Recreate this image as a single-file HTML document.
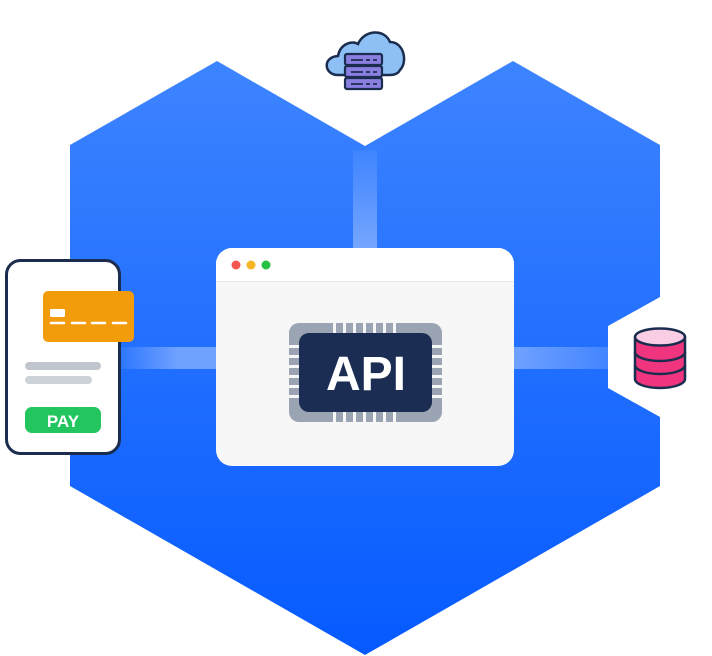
<!DOCTYPE html>
<html><head><style>
body{margin:0;width:712px;height:656px;background:#fff;overflow:hidden;position:relative;font-family:"Liberation Sans",sans-serif}
.a{position:absolute}
</style></head><body>
<svg class="a" style="left:0;top:0" width="712" height="656">
<defs>
<linearGradient id="g" x1="0" y1="0" x2="0" y2="1"><stop offset="0" stop-color="#3d84ff"/><stop offset="1" stop-color="#065aff"/></linearGradient>
<linearGradient id="h" x1="0" y1="0" x2="1" y2="0"><stop offset="0" stop-color="#fff" stop-opacity="0.05"/><stop offset="0.6" stop-color="#fff" stop-opacity="0.35"/><stop offset="1" stop-color="#fff" stop-opacity="0.35"/></linearGradient>
<linearGradient id="h2" x1="0" y1="0" x2="1" y2="0"><stop offset="0" stop-color="#fff" stop-opacity="0.35"/><stop offset="1" stop-color="#fff" stop-opacity="0.15"/></linearGradient>
<linearGradient id="v" x1="0" y1="0" x2="0" y2="1"><stop offset="0" stop-color="#fff" stop-opacity="0.05"/><stop offset="1" stop-color="#fff" stop-opacity="0.35"/></linearGradient>
</defs>
<polygon points="70,145 217,61 365,146 513,61 660,145 660,297 608,326 608,388 660,417 660,486 365,655 70,486" fill="url(#g)"/>
<rect x="120" y="347" width="96" height="22" fill="url(#h)"/>
<rect x="514" y="347" width="94" height="22" fill="url(#h2)"/>
<rect x="353" y="150" width="24" height="98" fill="url(#v)"/>
<!-- cloud -->
<path d="M338,75 C324,75 322,57 338,56 C340,44 352,40 358,44 C364,30 384,28 390,42 C404,42 408,62 400,70 C398,74 394,75 390,75 Z" fill="#8fc0f5" stroke="#1b2d4f" stroke-width="2.5"/>
<g stroke="#1b2d4f" stroke-width="2.2" fill="#8a7ee0">
<rect x="345" y="54" width="37" height="11" rx="2"/>
<rect x="345" y="66" width="37" height="11" rx="2"/>
<rect x="345" y="78" width="37" height="11" rx="2"/>
</g>
<g stroke="#1b2d4f" stroke-width="1.8"><path d="M351,60h12M366,60h4M373,60h4M351,72h12M366,72h4M373,72h4M351,84h12M366,84h4M373,84h4"/></g>
<!-- db -->
<g stroke="#1b2d4f" stroke-width="2.5" fill="#f0357e">
<path d="M635,337 v42 a25,9 0 0 0 50,0 v-42"/>
<path d="M635,352 a25,9 0 0 0 50,0 M635,365 a25,9 0 0 0 50,0" fill="none"/>
<ellipse cx="660" cy="337" rx="25" ry="8.5" fill="#f9cde3"/>
</g>
<!-- browser -->
<rect x="216" y="248" width="298" height="218" rx="16" fill="#f7f7f7"/>
<path d="M232,248 h266 a16,16 0 0 1 16,16 v17 h-298 v-17 a16,16 0 0 1 16,-16z" fill="#fff"/>
<line x1="216" y1="281.5" x2="514" y2="281.5" stroke="#e6e6e6"/>
<circle cx="236" cy="265" r="4.5" fill="#f5554f"/><circle cx="251" cy="265" r="4.5" fill="#f6b628"/><circle cx="266" cy="265" r="4.5" fill="#27c141"/>
<rect x="289" y="323" width="153" height="99" rx="10" fill="#9ba4b2"/>
<g fill="#f7f7f7">
<rect x="333" y="323" width="3" height="10"/><rect x="343" y="323" width="3" height="10"/><rect x="353" y="323" width="3" height="10"/><rect x="363" y="323" width="3" height="10"/><rect x="373" y="323" width="3" height="10"/><rect x="383" y="323" width="3" height="10"/><rect x="393" y="323" width="3" height="10"/>
<rect x="333" y="412" width="3" height="10"/><rect x="343" y="412" width="3" height="10"/><rect x="353" y="412" width="3" height="10"/><rect x="363" y="412" width="3" height="10"/><rect x="373" y="412" width="3" height="10"/><rect x="383" y="412" width="3" height="10"/><rect x="393" y="412" width="3" height="10"/>
<rect x="289" y="345" width="10" height="3"/><rect x="289" y="355" width="10" height="3"/><rect x="289" y="365" width="10" height="3"/><rect x="289" y="375" width="10" height="3"/><rect x="289" y="385" width="10" height="3"/><rect x="289" y="395" width="10" height="3"/>
<rect x="432" y="345" width="10" height="3"/><rect x="432" y="355" width="10" height="3"/><rect x="432" y="365" width="10" height="3"/><rect x="432" y="375" width="10" height="3"/><rect x="432" y="385" width="10" height="3"/><rect x="432" y="395" width="10" height="3"/>
</g>
<rect x="299" y="333" width="133" height="79" rx="10" fill="#1b2d52"/>
<text x="366" y="390" text-anchor="middle" fill="#fff" font-family="Liberation Sans" font-weight="bold" font-size="48">API</text>
<!-- phone -->
<rect x="6.5" y="260.5" width="113" height="193" rx="14" fill="#fff" stroke="#1b2d4f" stroke-width="3"/>
<rect x="43" y="291" width="91" height="51" rx="5" fill="#f39c0b"/>
<rect x="50" y="309" width="15" height="8" rx="1.5" fill="#fff"/>
<path d="M51,323h13M72,323h13M92,323h13M113,323h13" stroke="#fff" stroke-width="2.5" stroke-linecap="round"/>
<rect x="25" y="362" width="76" height="8" rx="4" fill="#c1c6ce"/>
<rect x="25" y="376" width="67" height="8" rx="4" fill="#cdd1d8"/>
<rect x="25" y="407" width="76" height="26" rx="7" fill="#23c55e"/>
<text x="63" y="427" text-anchor="middle" fill="#fff" font-family="Liberation Sans" font-weight="bold" font-size="17">PAY</text>
</svg>
</body></html>
